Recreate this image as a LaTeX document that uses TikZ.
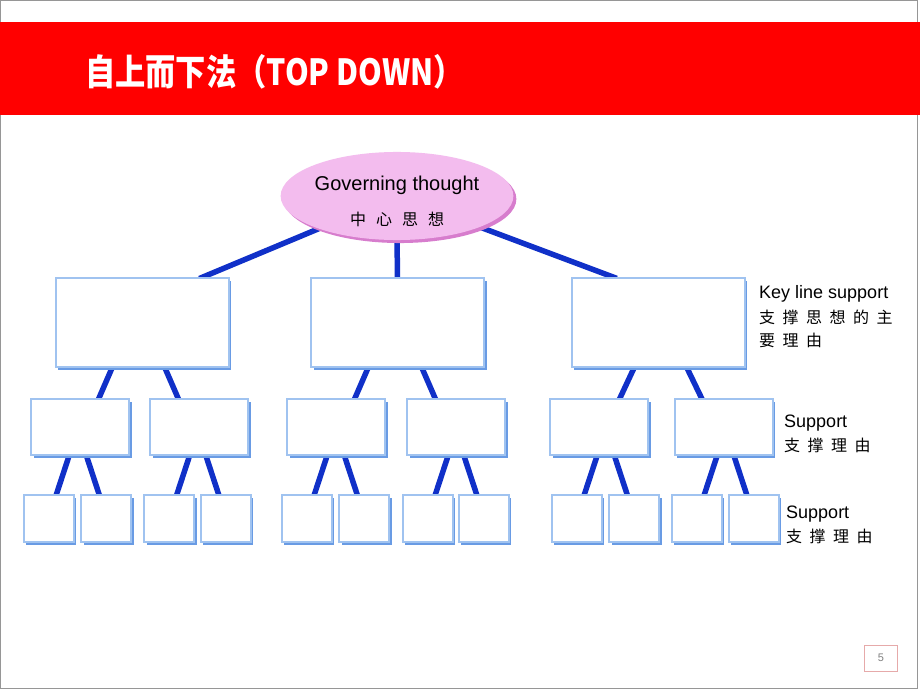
\documentclass[tikz,border=0pt]{standalone}
\usepackage{graphicx}
\usepackage{fontspec}
\setmainfont{Liberation Sans}
\newfontfamily\cjk{Noto Sans CJK SC}
\usetikzlibrary{shapes.geometric,shadows,backgrounds}

\definecolor{bandred}{RGB}{255,0,0}
\definecolor{linkblue}{RGB}{16,48,200}
\definecolor{boxblue}{RGB}{160,195,240}
\definecolor{shadeblue}{RGB}{105,155,228}
\definecolor{thoughtpink}{RGB}{243,188,238}
\definecolor{shadepink}{RGB}{215,125,205}
\definecolor{framegrey}{RGB}{150,150,150}
\definecolor{pagepink}{RGB}{230,170,170}

\begin{document}
\begin{tikzpicture}[x=1pt, y=-1pt,
		thought/.style={ellipse, fill=thoughtpink, minimum width=218pt, minimum height=84pt, inner sep=0pt, align=center, font=\fontsize{20}{24}\selectfont, drop shadow={shadow xshift=3pt, shadow yshift=-3pt, fill=shadepink, opacity=1}},
		anybox/.style={draw=boxblue, line width=2pt, fill=white, inner sep=0pt, drop shadow={shadow xshift=2.5pt, shadow yshift=-2.5pt, fill=shadeblue, opacity=1}},
		keybox/.style={anybox, minimum width=173pt, minimum height=89pt},
		midbox/.style={anybox, minimum width=98pt, minimum height=56pt},
		leafbox/.style={anybox, minimum width=50pt, minimum height=47pt},
		link/.style={linkblue, line width=5.5pt, shorten <=-4pt, shorten >=-4pt},
		enlbl/.style={anchor=base west, inner sep=0pt, font=\fontsize{18}{22}\selectfont},
		cnlbl/.style={anchor=base west, inner sep=0pt, font=\cjk\fontsize{16}{18}\selectfont}]
	\useasboundingbox (0,0) rectangle (920,690);

	% title band
	\fill[bandred] (0,22) rectangle (920,115);
	\node (title) [anchor=west, inner sep=0pt, text=white] at (85,72) {\scalebox{0.84}[1]{\cjk\bfseries\fontsize{36}{40}\selectfont 自上而下法（TOP DOWN）}};

	% governing thought
	\node (gt) [thought] at (397,196) {\rule{0pt}{26pt}Governing thought\\[11pt]{\cjk\fontsize{16}{18}\selectfont 中\kern10pt 心\kern10pt 思\kern10pt 想}};

	% key line
	\node (k1) [keybox] at (142,322.5) {};
	\node (k2) [keybox] at (397.5,322.5) {};
	\node (k3) [keybox] at (658,322.5) {};

	% supports
	\node (m1) [midbox] at (80,427) {};
	\node (m2) [midbox] at (199,427) {};
	\node (m3) [midbox] at (336,427) {};
	\node (m4) [midbox] at (456,427) {};
	\node (m5) [midbox] at (599,427) {};
	\node (m6) [midbox] at (723.5,427) {};

	\node (s1) [leafbox] at (48.5,518.5) {};
	\node (s2) [leafbox] at (106,518.5) {};
	\node (s3) [leafbox] at (169,518.5) {};
	\node (s4) [leafbox] at (225.5,518.5) {};
	\node (s5) [leafbox] at (306.5,518.5) {};
	\node (s6) [leafbox] at (364,518.5) {};
	\node (s7) [leafbox] at (427.5,518.5) {};
	\node (s8) [leafbox] at (483.5,518.5) {};
	\node (s9) [leafbox] at (576.5,518.5) {};
	\node (s10) [leafbox] at (634,518.5) {};
	\node (s11) [leafbox] at (696.5,518.5) {};
	\node (s12) [leafbox] at (753.5,518.5) {};

	% labels on the right
	\node (keylbl) [enlbl] at (759,298) {Key line support};
	\node (keylblcn) [cnlbl] at (759,323) {支\kern7.5pt 撑\kern7.5pt 思\kern7.5pt 想\kern7.5pt 的\kern7.5pt 主};
	\node (keylblcn2) [cnlbl] at (759,346) {要\kern7.5pt 理\kern7.5pt 由};
	\node (midlbl) [enlbl] at (784,427) {Support};
	\node (midlblcn) [cnlbl] at (784,451) {支\kern7.5pt 撑\kern7.5pt 理\kern7.5pt 由};
	\node (leaflbl) [enlbl] at (786,518) {Support};
	\node (leaflblcn) [cnlbl] at (786,542) {支\kern7.5pt 撑\kern7.5pt 理\kern7.5pt 由};

	% page number
	\node (pgnum) [draw=pagepink, minimum width=33pt, minimum height=26pt, inner sep=0pt, text=gray, font=\fontsize{11}{13}\selectfont] at (881,658) {5};

	\begin{pgfonlayer}{background}
		\fill[white] (0,0) rectangle (920,690);
		\draw[framegrey] (0.5,0.5) rectangle (917,688);

		\draw[link] (gt) -- ([xshift=61pt]k1.north);
		\draw[link] (gt) -- (k2);
		\draw[link] (gt) -- ([xshift=-45pt]k3.north);

		\draw[link] ([xshift=-30pt]k1.south) -- ([xshift=19pt]m1.north);
		\draw[link] ([xshift=23pt]k1.south) -- ([xshift=-21pt]m2.north);
		\draw[link] ([xshift=-29.5pt]k2.south) -- ([xshift=19pt]m3.north);
		\draw[link] ([xshift=24.5pt]k2.south) -- ([xshift=-21pt]m4.north);
		\draw[link] ([xshift=-24pt]k3.south) -- ([xshift=21pt]m5.north);
		\draw[link] ([xshift=29pt]k3.south) -- ([xshift=-22pt]m6.north);

		\draw[link] ([xshift=-11pt]m1.south) -- ([xshift=8pt]s1.north);
		\draw[link] ([xshift=6.5pt]m1.south) -- ([xshift=-7pt]s2.north);
		\draw[link] ([xshift=-9.5pt]m2.south) -- ([xshift=8pt]s3.north);
		\draw[link] ([xshift=7pt]m2.south) -- ([xshift=-7pt]s4.north);
		\draw[link] ([xshift=-9pt]m3.south) -- ([xshift=8pt]s5.north);
		\draw[link] ([xshift=8.5pt]m3.south) -- ([xshift=-7pt]s6.north);
		\draw[link] ([xshift=-8pt]m4.south) -- ([xshift=8pt]s7.north);
		\draw[link] ([xshift=8pt]m4.south) -- ([xshift=-7pt]s8.north);
		\draw[link] ([xshift=-2pt]m5.south) -- ([xshift=8pt]s9.north);
		\draw[link] ([xshift=15.5pt]m5.south) -- ([xshift=-7pt]s10.north);
		\draw[link] ([xshift=-6.5pt]m6.south) -- ([xshift=8pt]s11.north);
		\draw[link] ([xshift=10.5pt]m6.south) -- ([xshift=-7pt]s12.north);
	\end{pgfonlayer}
\end{tikzpicture}
\end{document}
